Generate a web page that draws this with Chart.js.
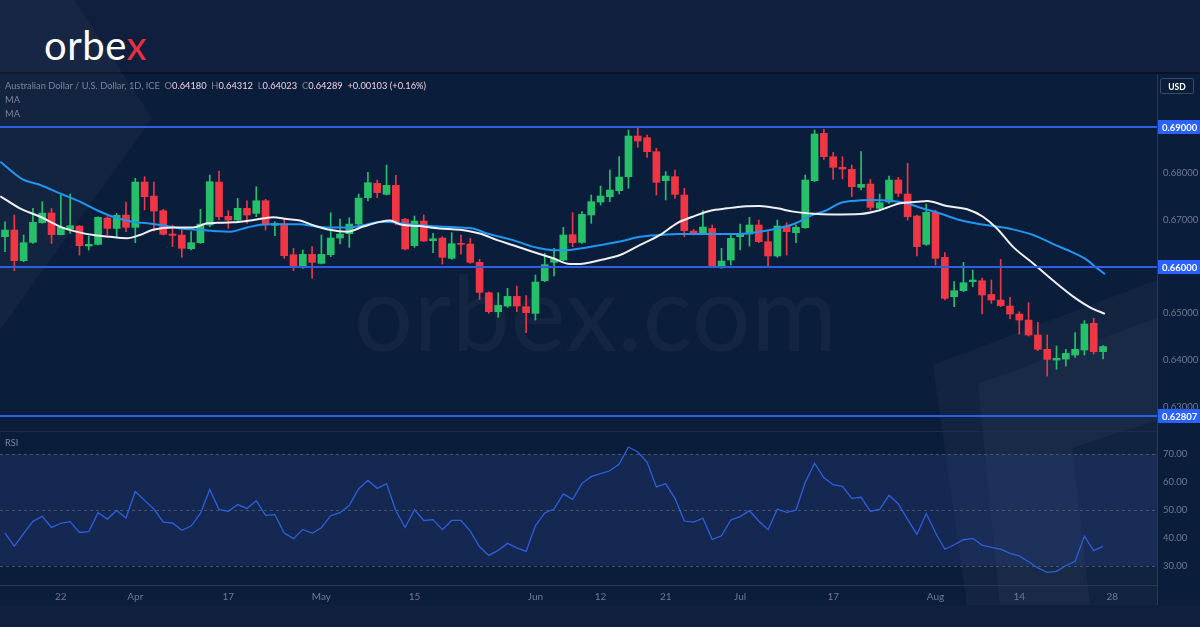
<!DOCTYPE html>
<html>
<head>
<meta charset="utf-8">
<title>AUD/USD 1D</title>
<script src="https://cdn.jsdelivr.net/npm/chart.js@4.4.1/dist/chart.umd.min.js"></script>
<style>
  body { margin:0; width:1200px; height:627px; overflow:hidden; background:#0f1f3d; font-family:Lato, "Open Sans", sans-serif; }
  #wrap { position:relative; width:1200px; height:627px; }
  .abs { position:absolute; }
  #header { left:0; top:0; width:1200px; height:72px; background:#0f1f3d; }
  #logo { left:44px; top:21px; font-size:40px; color:#fff; letter-spacing:0.5px; }
  #logo span { color:#e8303f; }
  #pane { left:0; top:72px; width:1200px; height:533px; background:#0a1d3a; border-top:2px solid #0a1324; box-sizing:border-box; }
  .shape { left:0; top:0; width:1200px; height:627px; }
  #chev { background:rgba(255,255,255,0.035); clip-path:polygon(0 0, 74px 0, 152px 118px, 0 330px); }
  #rb1 { background:rgba(255,255,255,0.035); clip-path:polygon(933px 365px, 1157px 280px, 1157px 605px, 967px 605px); }
  #rb2 { background:rgba(255,255,255,0.03); clip-path:polygon(978px 384px, 1157px 318px, 1157px 605px, 1000px 605px); }
  #rb3 { background:rgba(10,29,58,0.55); clip-path:polygon(1072px 448px, 1157px 420px, 1157px 605px, 1090px 605px); }
  #mark { left:354px; top:248px; font-size:104px; font-weight:400; color:rgba(255,255,255,0.04); letter-spacing:0.5px; }
  canvas { position:absolute; left:0; }
  #price { top:74px; }
  #rsi { top:432px; }
  .sep { background:#1e2c45; height:1px; left:0; width:1157px; }
  #vaxis { left:1157px; top:74px; width:1px; height:531px; background:#2a3852; }
  .txt { font-size:9.3px; color:#7b8599; white-space:nowrap; }
  .val { color:#f1d3e1; }
  #usd { left:1160px; top:78px; width:34px; height:16px; border:1px solid #3a4860; border-radius:2px; color:#fff; font-size:8.5px; font-weight:bold; text-align:center; line-height:16px; box-sizing:border-box; }
</style>
</head>
<body>
<div id="wrap">
  <div id="header" class="abs"></div>
  <div id="pane" class="abs"></div>
  <div id="chev" class="abs shape"></div>
  <div id="rb1" class="abs shape"></div>
  <div id="rb2" class="abs shape"></div>
  <div id="rb3" class="abs shape"></div>
  <div id="mark" class="abs">orbex.com</div>
  <div id="logo" class="abs">orbe<span>x</span></div>
  <div class="abs sep" style="top:431px"></div>
  <div class="abs sep" style="top:585px;background:#2a3852"></div>
  <div id="vaxis" class="abs"></div>
  <canvas id="price" width="1200" height="358"></canvas>
  <canvas id="rsi" width="1200" height="173"></canvas>
  <div class="abs txt" style="left:5px;top:80px">Australian Dollar / U.S. Dollar, 1D, ICE &nbsp;O<span class="val">0.64180</span> &nbsp;H<span class="val">0.64312</span> &nbsp;L<span class="val">0.64023</span> &nbsp;C<span class="val">0.64289</span> &nbsp;<span class="val">+0.00103 (+0.16%)</span></div>
  <div class="abs txt" style="left:5px;top:94px">MA</div>
  <div class="abs txt" style="left:5px;top:108px">MA</div>
  <div class="abs txt" style="left:5px;top:437px">RSI</div>
  <div id="usd" class="abs">USD</div>
</div>
<script>
// AUD/USD daily, 14 Mar - 25 Aug 2023 (one entry per trading day)
var openP = [0.66643,0.66786,0.66129,0.66521,0.66943,0.6715,0.66686,0.66807,0.66871,0.66443,
  0.66479,0.67043,0.66821,0.67107,0.66843,0.67814,0.67514,0.672,0.667,0.66679,
  0.66386,0.66514,0.66893,0.67814,0.67079,0.67,0.6725,0.67143,0.67414,0.66886,
  0.66921,0.66257,0.66021,0.66264,0.66071,0.66257,0.66614,0.66707,0.66914,0.67479,
  0.67786,0.6755,0.67743,0.67014,0.6645,0.66979,0.66557,0.66614,0.66179,0.665,
  0.66486,0.66093,0.65443,0.65036,0.65157,0.65364,0.65143,0.65,0.657,0.66093,
  0.66143,0.66686,0.66521,0.67107,0.67386,0.675,0.67629,0.67929,0.688,0.68764,
  0.68464,0.67843,0.67929,0.67536,0.66764,0.66714,0.66821,0.66,0.66143,0.66643,
  0.667,0.66893,0.66536,0.66229,0.66871,0.66729,0.66836,0.67843,0.68857,0.68357,
  0.68129,0.68086,0.677,0.67771,0.6725,0.67386,0.67857,0.67557,0.67086,0.66479,
  0.67164,0.662,0.65357,0.65486,0.65679,0.657,0.65407,0.65286,0.65157,0.64986,
  0.64857,0.64536,0.64229,0.64,0.64021,0.64107,0.64214,0.64786,0.6418];
var highP = [0.66964,0.67107,0.66679,0.6725,0.67393,0.6725,0.67536,0.67557,0.6688,0.66657,
  0.67071,0.67071,0.67143,0.67386,0.67893,0.67929,0.67814,0.67229,0.66893,0.66786,
  0.6675,0.67229,0.67964,0.6805,0.672,0.67464,0.67414,0.67714,0.67443,0.66964,
  0.67036,0.66393,0.66357,0.66429,0.66679,0.67157,0.67021,0.6705,0.67557,0.68021,
  0.67857,0.68179,0.67957,0.67036,0.67086,0.67107,0.66714,0.66643,0.66729,0.66679,
  0.66607,0.66157,0.65464,0.65443,0.65536,0.65586,0.65379,0.65821,0.66286,0.66393,
  0.66843,0.67157,0.67179,0.67536,0.67729,0.68071,0.68357,0.68929,0.69,0.68821,
  0.68536,0.68036,0.68071,0.67679,0.668,0.672,0.66893,0.66393,0.66679,0.66914,
  0.67057,0.67,0.6675,0.67,0.66943,0.66893,0.67964,0.68929,0.68943,0.6845,
  0.68357,0.68179,0.68464,0.67871,0.67557,0.67943,0.67914,0.68214,0.67107,0.67343,
  0.67214,0.663,0.65679,0.66093,0.65929,0.65757,0.65714,0.66157,0.65343,0.65036,
  0.65229,0.64807,0.64536,0.643,0.64229,0.64586,0.64843,0.64893,0.64312];
var lowP = [0.66321,0.65914,0.66107,0.665,0.66929,0.665,0.66679,0.66714,0.6625,0.66357,
  0.66464,0.66679,0.66643,0.6675,0.66514,0.67214,0.66764,0.66679,0.66429,0.662,
  0.66357,0.665,0.66857,0.67,0.66821,0.66986,0.66929,0.67071,0.66786,0.66664,
  0.66179,0.65914,0.65964,0.6575,0.66057,0.66214,0.66486,0.66414,0.669,0.67407,
  0.67479,0.67536,0.66893,0.66357,0.66414,0.66536,0.663,0.66057,0.66157,0.66271,
  0.66071,0.653,0.65,0.64914,0.65129,0.65036,0.64586,0.64857,0.65679,0.658,
  0.66129,0.66429,0.665,0.66929,0.67321,0.67393,0.67557,0.67679,0.68557,0.68343,
  0.67536,0.67429,0.67464,0.66643,0.66679,0.66693,0.66,0.65964,0.66036,0.66357,
  0.66443,0.66514,0.66,0.662,0.6625,0.66514,0.66821,0.67821,0.683,0.67871,
  0.67879,0.675,0.67643,0.67214,0.67229,0.67357,0.675,0.67,0.66229,0.66457,
  0.66036,0.65286,0.65143,0.65464,0.65571,0.64986,0.65214,0.65143,0.64879,0.64557,
  0.64514,0.642,0.63657,0.638,0.63871,0.64057,0.64107,0.64129,0.64023];
var closeP = [0.66786,0.66129,0.66514,0.6695,0.6715,0.66686,0.66843,0.66879,0.6645,0.66479,
  0.67057,0.66821,0.671,0.66843,0.67814,0.675,0.67193,0.66693,0.66671,0.66393,
  0.66514,0.66914,0.67821,0.67071,0.67,0.6725,0.67107,0.67414,0.66893,0.66929,
  0.66236,0.66,0.66264,0.66093,0.66264,0.66614,0.667,0.66914,0.67471,0.678,
  0.67586,0.67743,0.66964,0.66379,0.66979,0.6655,0.666,0.662,0.66493,0.66479,
  0.66093,0.6545,0.65036,0.65171,0.65364,0.65157,0.65014,0.65671,0.66043,0.66164,
  0.66679,0.66514,0.67121,0.67393,0.67514,0.67643,0.67921,0.688,0.68693,0.68464,
  0.67807,0.67943,0.6755,0.66771,0.66714,0.6685,0.66014,0.66121,0.66607,0.66693,
  0.66893,0.66536,0.66229,0.66871,0.6675,0.66843,0.67857,0.68843,0.68357,0.68129,
  0.68093,0.67714,0.67764,0.67271,0.67371,0.67857,0.67571,0.67071,0.66429,0.67164,
  0.66179,0.65321,0.65486,0.65657,0.65714,0.65393,0.65286,0.65164,0.64986,0.64857,
  0.64536,0.64229,0.64014,0.64036,0.64143,0.64229,0.64771,0.64179,0.64289];

// RSI(14), one value per trading day
var rsiVal = [41.7,37.0,41.5,45.9,47.7,43.7,45.2,45.8,41.9,42.2,
  49.0,46.7,49.8,47.1,56.6,53.4,50.3,45.6,45.3,42.7,
  44.2,48.7,57.3,50.1,49.5,51.9,50.5,53.3,48.0,48.3,
  41.7,39.7,43.0,41.6,43.6,47.9,49.0,51.6,57.5,60.6,
  57.7,59.4,49.7,43.7,50.1,46.2,46.5,42.9,46.2,46.2,
  42.4,36.8,33.7,35.5,38.0,36.4,35.1,44.3,48.9,50.3,
  55.7,53.8,59.5,61.9,63.0,64.0,66.4,72.5,70.7,67.1,
  58.2,59.3,54.1,46.0,45.6,47.0,39.4,40.7,46.4,47.6,
  49.7,46.0,42.9,50.3,49.1,49.9,59.9,66.7,61.5,59.0,
  58.4,54.1,54.5,49.5,50.2,55.2,52.1,46.6,41.2,48.7,
  41.8,35.9,37.5,39.3,39.8,37.4,36.6,35.9,34.4,33.5,
  31.4,29.2,27.6,28.0,30.0,31.6,40.6,35.4,36.9];

// moving averages at these trading-day positions
var fastMaDay = [-0.5,1.6,3.8,5.9,8.1,9.5,11.3,13.1,14.5,15.9,18.1,20.2,21.7,22.8,24.5,26.7,28.8,30.3,31.7,33.1,
  34.9,36.8,38.5,40.3,41.4,42.4,44.6,46.7,48.9,51.0,52.9,54.6,56.7,58.9,60.7,61.8,63.9,66.1,68.2,70.4,
  72.2,73.9,75.8,77.6,79.3,81.1,83.0,84.7,86.5,89.0,91.9,94.0,96.2,98.0,99.1,101.2,103.4,105.1,106.6,108.3,
  110.5,112.6,114.8,116.6,118.2];
var fastMaVal = [0.6751,0.6725,0.6707,0.6686,0.6673,0.6668,0.6664,0.6661,0.6668,0.6679,0.6684,0.6684,0.6693,0.6694,0.6695,0.6700,0.6706,0.6702,0.6699,0.6689,
  0.6679,0.6675,0.6686,0.6696,0.6699,0.6691,0.6687,0.6682,0.6679,0.6671,0.6657,0.6646,0.6632,0.6618,0.6606,0.6606,0.6614,0.6625,0.6646,0.6668,
  0.6693,0.6707,0.6720,0.6725,0.6729,0.6730,0.6725,0.6718,0.6714,0.6712,0.6713,0.6721,0.6736,0.6739,0.6741,0.6730,0.6723,0.6707,0.6682,0.6643,
  0.6607,0.6571,0.6536,0.6513,0.6499];
var slowMaDay = [-0.5,1.9,3.8,5.9,8.1,9.9,11.6,13.8,15.3,17.4,18.8,21.0,22.8,24.2,26.0,28.2,29.9,31.7,33.1,34.9,
  36.8,38.5,40.3,41.4,42.4,44.6,46.7,48.9,50.3,51.8,54.6,56.7,58.2,59.6,60.7,61.8,63.9,66.1,68.2,70.4,
  72.5,74.7,76.8,79.0,81.1,83.0,84.7,86.8,88.3,89.7,91.1,93.0,95.4,96.9,98.3,100.5,102.6,104.8,106.6,108.3,
  110.5,112.6,114.8,116.3,117.4,118.2];
var slowMaVal = [0.6825,0.6787,0.6775,0.6757,0.6739,0.6721,0.6707,0.6696,0.6693,0.6687,0.6682,0.6679,0.6676,0.6675,0.6684,0.6691,0.6691,0.6691,0.6687,0.6684,
  0.6684,0.6689,0.6696,0.6696,0.6693,0.6689,0.6686,0.6684,0.6682,0.6671,0.6657,0.6643,0.6637,0.6635,0.6636,0.6639,0.6646,0.6654,0.6664,0.6668,
  0.6670,0.6670,0.6670,0.6670,0.6675,0.6682,0.6691,0.6711,0.6721,0.6736,0.6741,0.6743,0.6741,0.6736,0.6727,0.6714,0.6700,0.6691,0.6686,0.6680,
  0.6668,0.6649,0.6630,0.6614,0.6596,0.6584];

var levelPrices = [0.69, 0.66, 0.62807];
var priceTicks = [0.63, 0.64, 0.65, 0.66, 0.67, 0.68, 0.69];
var rsiTicks = [30, 40, 50, 60, 70];
var tickDays = [6, 14, 24, 34, 44, 57, 64, 71, 79, 89, 100, 109, 119];
var tickLabels = ['22', 'Apr', '17', 'May', '15', 'Jun', '12', '21', 'Jul', '17', 'Aug', '14', '28'];

var upColor = '#26c06b';
var downColor = '#ef3645';
var levelColor = '#2c5fe3';
var axisText = '#6f7b91';
var fontFam = 'Lato, "Open Sans", sans-serif';

var days = openP.map(function(v, i) { return i; });
var candleColors = days.map(function(i) { return closeP[i] >= openP[i] ? upColor : downColor; });

function pairs(xs, ys) {
  return xs.map(function(x, i) { return { x: x, y: ys[i] }; });
}

function xScale(show) {
  return {
    type: 'linear', min: -0.54, max: 123.8, offset: false, display: show,
    grid: { display: false, drawTicks: false }, border: { display: false },
    afterBuildTicks: function(s) { s.ticks = tickDays.map(function(v) { return { value: v }; }); },
    ticks: {
      autoSkip: false, maxRotation: 0, padding: 6, color: axisText,
      font: { family: fontFam, size: 10 },
      callback: function(v, i) { return tickLabels[i]; }
    },
    afterFit: function(s) {
      s.height = show ? 20 : 0;
      s.paddingLeft = 0; s.paddingRight = 0;
    }
  };
}

var levelPlugin = {
  id: 'levels',
  afterDatasetsDraw: function(chart) {
    var ctx = chart.ctx, area = chart.chartArea, y = chart.scales.y;
    ctx.save();
    ctx.strokeStyle = levelColor;
    ctx.lineWidth = 2;
    levelPrices.forEach(function(v) {
      var py = Math.round(y.getPixelForValue(v));
      ctx.beginPath();
      ctx.moveTo(area.left, py);
      ctx.lineTo(area.right, py);
      ctx.stroke();
    });
    ctx.restore();
  },
  afterDraw: function(chart) {
    var ctx = chart.ctx, area = chart.chartArea, y = chart.scales.y;
    ctx.save();
    ctx.font = 'bold 9.5px ' + fontFam;
    ctx.textBaseline = 'middle';
    levelPrices.forEach(function(v) {
      var py = Math.round(y.getPixelForValue(v));
      ctx.fillStyle = '#2962ff';
      ctx.fillRect(area.right + 1, py - 7, chart.width - area.right - 1, 14);
      ctx.fillStyle = '#ffffff';
      ctx.fillText(v.toFixed(5), area.right + 5, py + 0.5);
    });
    ctx.restore();
  }
};

new Chart(document.getElementById('price'), {
  type: 'bar',
  data: {
    datasets: [
      { type: 'line', data: pairs(fastMaDay, fastMaVal), borderColor: '#eef0f4', borderWidth: 2,
        pointRadius: 0, cubicInterpolationMode: 'monotone', order: 0 },
      { type: 'line', data: pairs(slowMaDay, slowMaVal), borderColor: '#2196f3', borderWidth: 2,
        pointRadius: 0, cubicInterpolationMode: 'monotone', order: 0 },
      { data: days.map(function(i) { return { x: i, y: [openP[i], closeP[i]] }; }),
        backgroundColor: candleColors, barThickness: 7, minBarLength: 1, grouped: false, order: 1 },
      { data: days.map(function(i) { return { x: i, y: [lowP[i], highP[i]] }; }),
        backgroundColor: candleColors, barThickness: 1, grouped: false, order: 2 }
    ]
  },
  options: {
    responsive: false, animation: false,
    plugins: { legend: { display: false }, tooltip: { enabled: false } },
    scales: {
      x: xScale(false),
      y: {
        position: 'right', min: 0.62458, max: 0.70129,
        grid: { display: false, drawTicks: false }, border: { display: false },
        afterBuildTicks: function(s) { s.ticks = priceTicks.map(function(v) { return { value: v }; }); },
        ticks: { padding: 6, color: axisText, font: { family: fontFam, size: 9.5 },
          callback: function(v) { return v.toFixed(5); } },
        afterFit: function(s) { s.width = 43; s.paddingTop = 0; s.paddingBottom = 0; }
      }
    }
  },
  plugins: [levelPlugin]
});

var rsiBand = {
  id: 'rsiBand',
  beforeDatasetsDraw: function(chart) {
    var ctx = chart.ctx, area = chart.chartArea, y = chart.scales.y;
    var top = y.getPixelForValue(70), bot = y.getPixelForValue(30);
    ctx.save();
    ctx.fillStyle = 'rgba(40,62,130,0.35)';
    ctx.fillRect(area.left, top, area.right - area.left, bot - top);
    ctx.strokeStyle = '#46536c';
    ctx.lineWidth = 1;
    ctx.setLineDash([3, 3]);
    [70, 50, 30].forEach(function(v) {
      var py = Math.round(y.getPixelForValue(v)) + 0.5;
      ctx.beginPath();
      ctx.moveTo(area.left, py);
      ctx.lineTo(area.right, py);
      ctx.stroke();
    });
    ctx.restore();
  }
};

new Chart(document.getElementById('rsi'), {
  type: 'line',
  data: {
    datasets: [{ data: pairs(days, rsiVal), borderColor: '#2e5fdc', borderWidth: 1.3, pointRadius: 0, tension: 0 }]
  },
  options: {
    responsive: false, animation: false,
    plugins: { legend: { display: false }, tooltip: { enabled: false } },
    scales: {
      x: xScale(true),
      y: {
        position: 'right', min: 23.09, max: 77.88,
        grid: { display: false, drawTicks: false }, border: { display: false },
        afterBuildTicks: function(s) { s.ticks = rsiTicks.map(function(v) { return { value: v }; }); },
        ticks: { padding: 6, color: axisText, font: { family: fontFam, size: 9.5 },
          callback: function(v) { return v.toFixed(2); } },
        afterFit: function(s) { s.width = 43; s.paddingTop = 0; s.paddingBottom = 0; }
      }
    }
  },
  plugins: [rsiBand]
});
</script>
</body>
</html>
